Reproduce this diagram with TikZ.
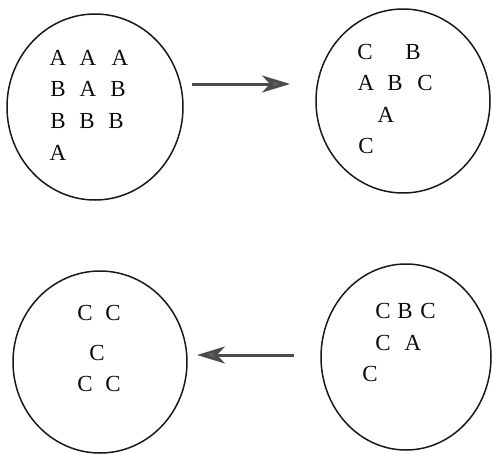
\documentclass[tikz,border=0pt]{standalone}
\usepackage{fontspec}
\setmainfont{Liberation Serif}
\usetikzlibrary{arrows.meta}
\begin{document}
\begin{tikzpicture}[x=1pt,y=-1pt,
  ring/.style={draw=black!90,line width=1.5pt},
  lt/.style={font=\fontsize{23}{24}\selectfont,text=black!95,inner sep=0pt,anchor=center},
  flow/.style={draw=black!70,line width=3pt,-{Stealth[length=28pt,width=17pt,inset=8pt,fill=black!60]}}]
\useasboundingbox (0,0) rectangle (492,453);
% circles
\draw[ring] (95,107) ellipse [x radius=88,y radius=93];
\draw[ring] (403,101) ellipse [x radius=87,y radius=92];
\draw[ring] (100,362) ellipse [x radius=87,y radius=91];
\draw[ring] (406,357) ellipse [x radius=85,y radius=93];
% circle 1
\node[lt] (a11) at (58,58) {A};
\node[lt] (a12) at (88,58) {A};
\node[lt] (a13) at (120,58) {A};
\node[lt] (a21) at (58,89) {B};
\node[lt] (a22) at (88,89) {A};
\node[lt] (a23) at (118,89) {B};
\node[lt] (a31) at (58,121) {B};
\node[lt] (a32) at (87,121) {B};
\node[lt] (a33) at (116,121) {B};
\node[lt] (a41) at (58,153) {A};
% circle 2
\node[lt] (b1) at (365,52) {C};
\node[lt] (b2) at (413,52) {B};
\node[lt] (b3) at (366,83) {A};
\node[lt] (b4) at (395,83) {B};
\node[lt] (b5) at (425,83) {C};
\node[lt] (b6) at (386,115) {A};
\node[lt] (b7) at (366,146) {C};
% circle 3
\node[lt] (c1) at (85,313) {C};
\node[lt] (c2) at (113,313) {C};
\node[lt] (c3) at (97,353) {C};
\node[lt] (c4) at (85,384) {C};
\node[lt] (c5) at (113,384) {C};
% circle 4
\node[lt] (d1) at (383,311) {C};
\node[lt] (d2) at (405,311) {B};
\node[lt] (d3) at (428,311) {C};
\node[lt] (d4) at (383,343) {C};
\node[lt] (d5) at (413,343) {A};
\node[lt] (d6) at (370,374) {C};
% arrows
\coordinate (p1) at (192,84);
\coordinate (q1) at (290,84);
\coordinate (p2) at (294,355);
\coordinate (q2) at (197,355);
\draw[flow] (p1) -- (q1);
\draw[flow] (p2) -- (q2);
\end{tikzpicture}
\end{document}
